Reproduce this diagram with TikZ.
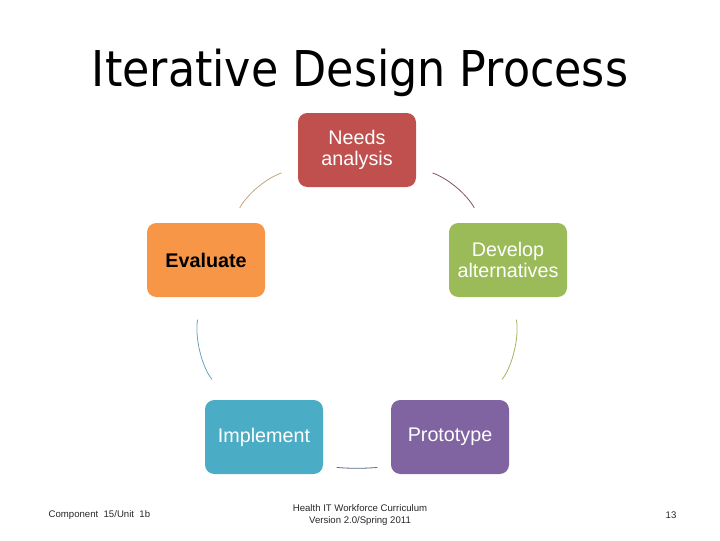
\documentclass[tikz,border=0pt]{standalone}
\usepackage{fontspec}
\setmainfont{Liberation Sans}
\newfontfamily\titlefont{DejaVu Sans Condensed}
\usepackage{xcolor}
\usepackage{tikz}

\definecolor{needsred}{HTML}{C0504D}
\definecolor{evalorange}{HTML}{F79646}
\definecolor{developgreen}{HTML}{9BBB59}
\definecolor{implementblue}{HTML}{4BACC6}
\definecolor{prototypepurple}{HTML}{8064A2}
\definecolor{arcone}{HTML}{8A5068}
\definecolor{arctwo}{HTML}{A8B064}
\definecolor{arcthree}{HTML}{5A6A8A}
\definecolor{arcfour}{HTML}{6AA4B8}
\definecolor{arcfive}{HTML}{C4A47C}

\begin{document}
\begin{tikzpicture}[x=0.75pt,y=-0.75pt,
    stage/.style={rounded corners=7pt, minimum width=88.5pt, minimum height=55.5pt,
      text width=86pt, align=center, inner sep=0pt, text=white,
      font=\fontsize{14.8}{16.2}\selectfont},
    cycle/.style={line width=0.6pt, shorten <=13pt, shorten >=13pt},
    footer/.style={font=\fontsize{7.2}{9}\selectfont, text=black!85, align=center}]
    \useasboundingbox (0,0) rectangle (720,540);
    \node [font=\titlefont\fontsize{37}{37}\selectfont, anchor=base] (title) at (360,86) {Iterative Design Process};
    \node [stage, fill=needsred] (needs) at (357,150) {Needs\\analysis};
    \node [stage, fill=developgreen] (develop) at (508,260) {Develop\\alternatives};
    \node [stage, fill=prototypepurple] (prototype) at (450,437) {Prototype};
    \node [stage, fill=implementblue] (implement) at (264,437) {Implement};
    \node [stage, fill=evalorange, text=black, font=\fontsize{14.8}{16.2}\selectfont\bfseries] (evaluate) at (206,260) {Evaluate};
    % arcs of the cycle
    \draw [cycle, arcone] (needs) to[bend left=20] (develop);
    \draw [cycle, arctwo, shorten <=17pt, shorten >=20pt] (develop) to[bend left=25] (prototype);
    \draw [cycle, arcthree, shorten <=10pt, shorten >=10pt] ([yshift=6pt]prototype.south west) to[bend left=5] ([yshift=6pt]implement.south east);
    \draw [cycle, arcfour, shorten <=20pt, shorten >=17pt] (implement) to[bend left=25] (evaluate);
    \draw [cycle, arcfive] (evaluate) to[bend left=20] (needs);
    % footer
    \node [footer, anchor=west] (unit) at (44,515) {Component\ \ 15/Unit\ \ 1b};
    \node [footer] (credit) at (360,515) {Health IT Workforce Curriculum\\Version 2.0/Spring 2011};
    \node [footer] (page) at (671,515) {13};
\end{tikzpicture}
\end{document}
